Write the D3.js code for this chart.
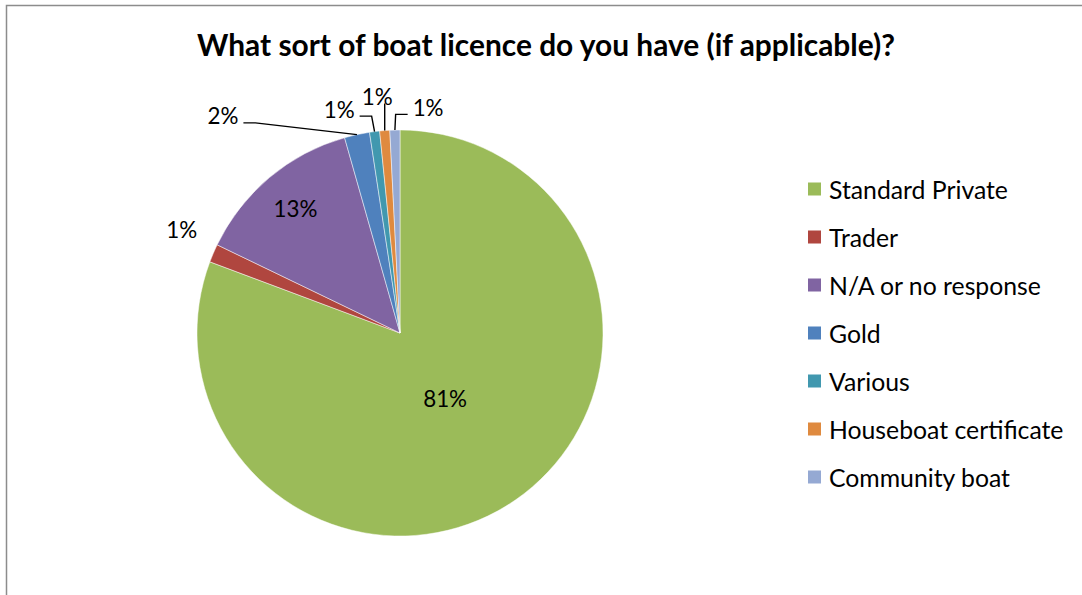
<!DOCTYPE html>
<html>
<head>
<meta charset="utf-8">
<script src="https://cdn.jsdelivr.net/npm/d3@7"></script>
<style>
  html, body { margin: 0; padding: 0; background: #fff; }
  svg { display: block; }
  text { font-family: "Lato", "Open Sans", "DejaVu Sans", sans-serif; fill: #000; }
</style>
</head>
<body>
<svg id="chart" width="1082" height="595"></svg>
<script>
// ---- data (share of respondents, %) ----
const categories = ["Standard Private", "Trader", "N/A or no response", "Gold", "Various", "Houseboat certificate", "Community boat"];
const shares = [80.7, 1.45, 13.45, 2.0, 0.8, 0.8, 0.8];
const colors = ["#9BBB59", "#B0463F", "#8064A2", "#4F81BD", "#4198AF", "#DF8A3F", "#95A9D3"];
const titleText = "What sort of boat licence do you have (if applicable)?";

// ---- label layout (angle in degrees from 12 o'clock, radius as fraction of pie radius) ----
const labelLayout = [
  { mode: "in",  angle: null, rf: 0.39 },
  { mode: "out", angle: 295.3, rf: 1.19, leader: false },
  { mode: "in",  angle: null, rf: 0.80 },
  { mode: "out", angle: 320.8, rf: 1.38, leader: true },
  { mode: "out", angle: 344.8, rf: 1.143, leader: true },
  { mode: "out", angle: 354.5, rf: 1.17, leader: true },
  { mode: "out", angle: 7.1,   rf: 1.12, leader: true }
];

const svg = d3.select("#chart");
const W = 1082, H = 595;

// outer border (top and left visible)
svg.append("rect")
  .attr("x", 6.5).attr("y", 5.5)
  .attr("width", W + 20).attr("height", H + 20)
  .attr("fill", "none").attr("stroke", "#8c8c8c").attr("stroke-width", 1.5);

// helper: fit font size so that text has given width
function fitWidth(sel, baseSize, target) {
  sel.style("font-size", baseSize + "px");
  const w = sel.node().getComputedTextLength();
  const s = baseSize * target / w;
  sel.style("font-size", s.toFixed(2) + "px");
  return s;
}

// title
const title = svg.append("text")
  .attr("x", 546).attr("y", 56)
  .attr("text-anchor", "middle")
  .style("font-weight", "bold")
  .text(titleText);
fitWidth(title, 24, 698);

const cx = 400, cy = 333, R = 203;
const total = d3.sum(shares);
const data = categories.map((c, i) => ({ cat: c, value: shares[i], color: colors[i], i }));

const pie = d3.pie().value(d => d.value).sort(null).startAngle(0).endAngle(2 * Math.PI);
const arcs = pie(data);
const arc = d3.arc().innerRadius(0).outerRadius(R);

const g = svg.append("g").attr("transform", `translate(${cx},${cy})`);
g.selectAll("path.slice")
  .data(arcs)
  .enter().append("path")
  .attr("class", "slice")
  .attr("d", arc)
  .attr("fill", d => d.data.color)
  .attr("stroke", "#ffffff")
  .attr("stroke-opacity", 0.6)
  .attr("stroke-width", 0.8);

function polar(angleRad, r) {
  return [r * Math.sin(angleRad), -r * Math.cos(angleRad)];
}

const fmt = v => Math.round(v / total * 100) + "%";
const labelFont = 22.4;

arcs.forEach((a, i) => {
  const lay = labelLayout[i];
  const mid = (a.startAngle + a.endAngle) / 2;
  const ang = lay.angle == null ? mid : lay.angle * Math.PI / 180;
  const [lx, ly] = polar(ang, R * lay.rf);
  const t = g.append("text")
    .attr("x", lx).attr("y", ly)
    .attr("text-anchor", "middle")
    .attr("dominant-baseline", "central")
    .style("font-size", labelFont + "px")
    .text(fmt(a.data.value));
  if (lay.leader) {
    const hw = t.node().getComputedTextLength() / 2;
    const [ax, ay] = polar(mid, R);
    const endY = ly + 7;
    let pts;
    if (Math.abs(lx - ax) < hw) {
      pts = [[ax, ay], [ax, endY]];
    } else if (lx < ax) {
      const ex = lx + hw + 5;
      pts = [[ax, ay], [ex + 12, endY], [ex, endY]];
    } else {
      const ex = lx - hw - 5;
      pts = [[ax, ay], [ex - 12, endY], [ex, endY]];
    }
    g.append("path")
      .attr("d", d3.line()(pts))
      .attr("fill", "none")
      .attr("stroke", "#000")
      .attr("stroke-width", 1.4);
  }
});

// legend
const legendX = 808, legendY0 = 189, legendStep = 48;
const lg = svg.append("g");
let legendSize = null;
data.forEach((d, i) => {
  const y = legendY0 + i * legendStep;
  lg.append("rect")
    .attr("x", legendX).attr("y", y - 6.5)
    .attr("width", 13).attr("height", 13)
    .attr("fill", d.color);
  const t = lg.append("text")
    .attr("x", legendX + 21).attr("y", y)
    .attr("dominant-baseline", "central")
    .text(d.cat);
  if (i === 0) legendSize = fitWidth(t, 21, 179);
  else t.style("font-size", legendSize.toFixed(2) + "px");
});
</script>
</body>
</html>
